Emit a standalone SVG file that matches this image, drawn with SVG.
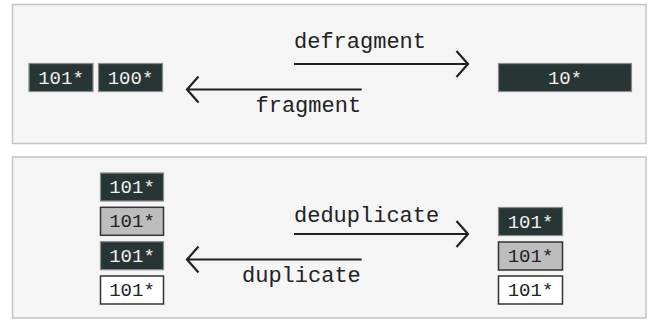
<svg xmlns="http://www.w3.org/2000/svg" width="652" height="323" viewBox="0 0 652 323">
<style>
.panel{fill:#f4f5f4;stroke:#c4c4c4;stroke-width:1.5}
.dark{fill:#283535;stroke:#8a8a8a;stroke-width:1.2}
.grey{fill:#bdbdbd;stroke:#333;stroke-width:1.5}
.white{fill:#ffffff;stroke:#333;stroke-width:1.5}
.bt{font-family:"Liberation Mono",monospace;font-size:19px;text-anchor:middle}
.lt{fill:#f0f0f0}
.dt{fill:#222}
.lbl{font-family:"Liberation Mono",monospace;font-size:22px;fill:#222}
.ln{stroke:#222;stroke-width:2.2;fill:none}
</style>
<rect class="panel" x="12.5" y="4.5" width="633.5" height="139"/>
<rect class="panel" x="12.5" y="157" width="633.5" height="161"/>
<g id="top-101"><rect class="dark" x="29" y="63.5" width="64" height="28"/><text class="bt lt" x="61" y="83.5">101*</text></g>
<g id="top-100"><rect class="dark" x="98.5" y="63.5" width="64" height="28"/><text class="bt lt" x="130.5" y="83.5">100*</text></g>
<g id="top-10"><rect class="dark" x="498.5" y="63.5" width="133" height="28"/><text class="bt lt" x="565" y="83.5">10*</text></g>
<g id="l1"><rect class="dark" x="100.5" y="173" width="63" height="28"/><text class="bt lt" x="132" y="193">101*</text></g>
<g id="l2"><rect class="grey" x="100.5" y="207.3" width="63" height="28"/><text class="bt dt" x="132" y="227.3">101*</text></g>
<g id="l3"><rect class="dark" x="100.5" y="241.7" width="63" height="28"/><text class="bt lt" x="132" y="261.7">101*</text></g>
<g id="l4"><rect class="white" x="100.5" y="276" width="63" height="28"/><text class="bt dt" x="132" y="296">101*</text></g>
<g id="r1"><rect class="dark" x="498.5" y="207.5" width="64" height="28"/><text class="bt lt" x="530.5" y="227.5">101*</text></g>
<g id="r2"><rect class="grey" x="498.5" y="242" width="64" height="28"/><text class="bt dt" x="530.5" y="262">101*</text></g>
<g id="r3"><rect class="white" x="498.5" y="276" width="64" height="28"/><text class="bt dt" x="530.5" y="296">101*</text></g>
<g id="connectors">
<path class="ln" d="M294 64H468M456.5 51L468 64L456.5 77"/>
<text class="lbl" x="294" y="47.7">defragment</text>
<path class="ln" d="M361.7 89.5H187M198.5 76.5L187 89.5L198.5 102.5"/>
<text class="lbl" x="255.5" y="112.3">fragment</text>
<path class="ln" d="M294 234H468M456.5 221L468 234L456.5 247"/>
<text class="lbl" x="294" y="221.7">deduplicate</text>
<path class="ln" d="M361.7 259.5H187M198.5 246.5L187 259.5L198.5 272.5"/>
<text class="lbl" x="242" y="282.3">duplicate</text>
</g>
</svg>
